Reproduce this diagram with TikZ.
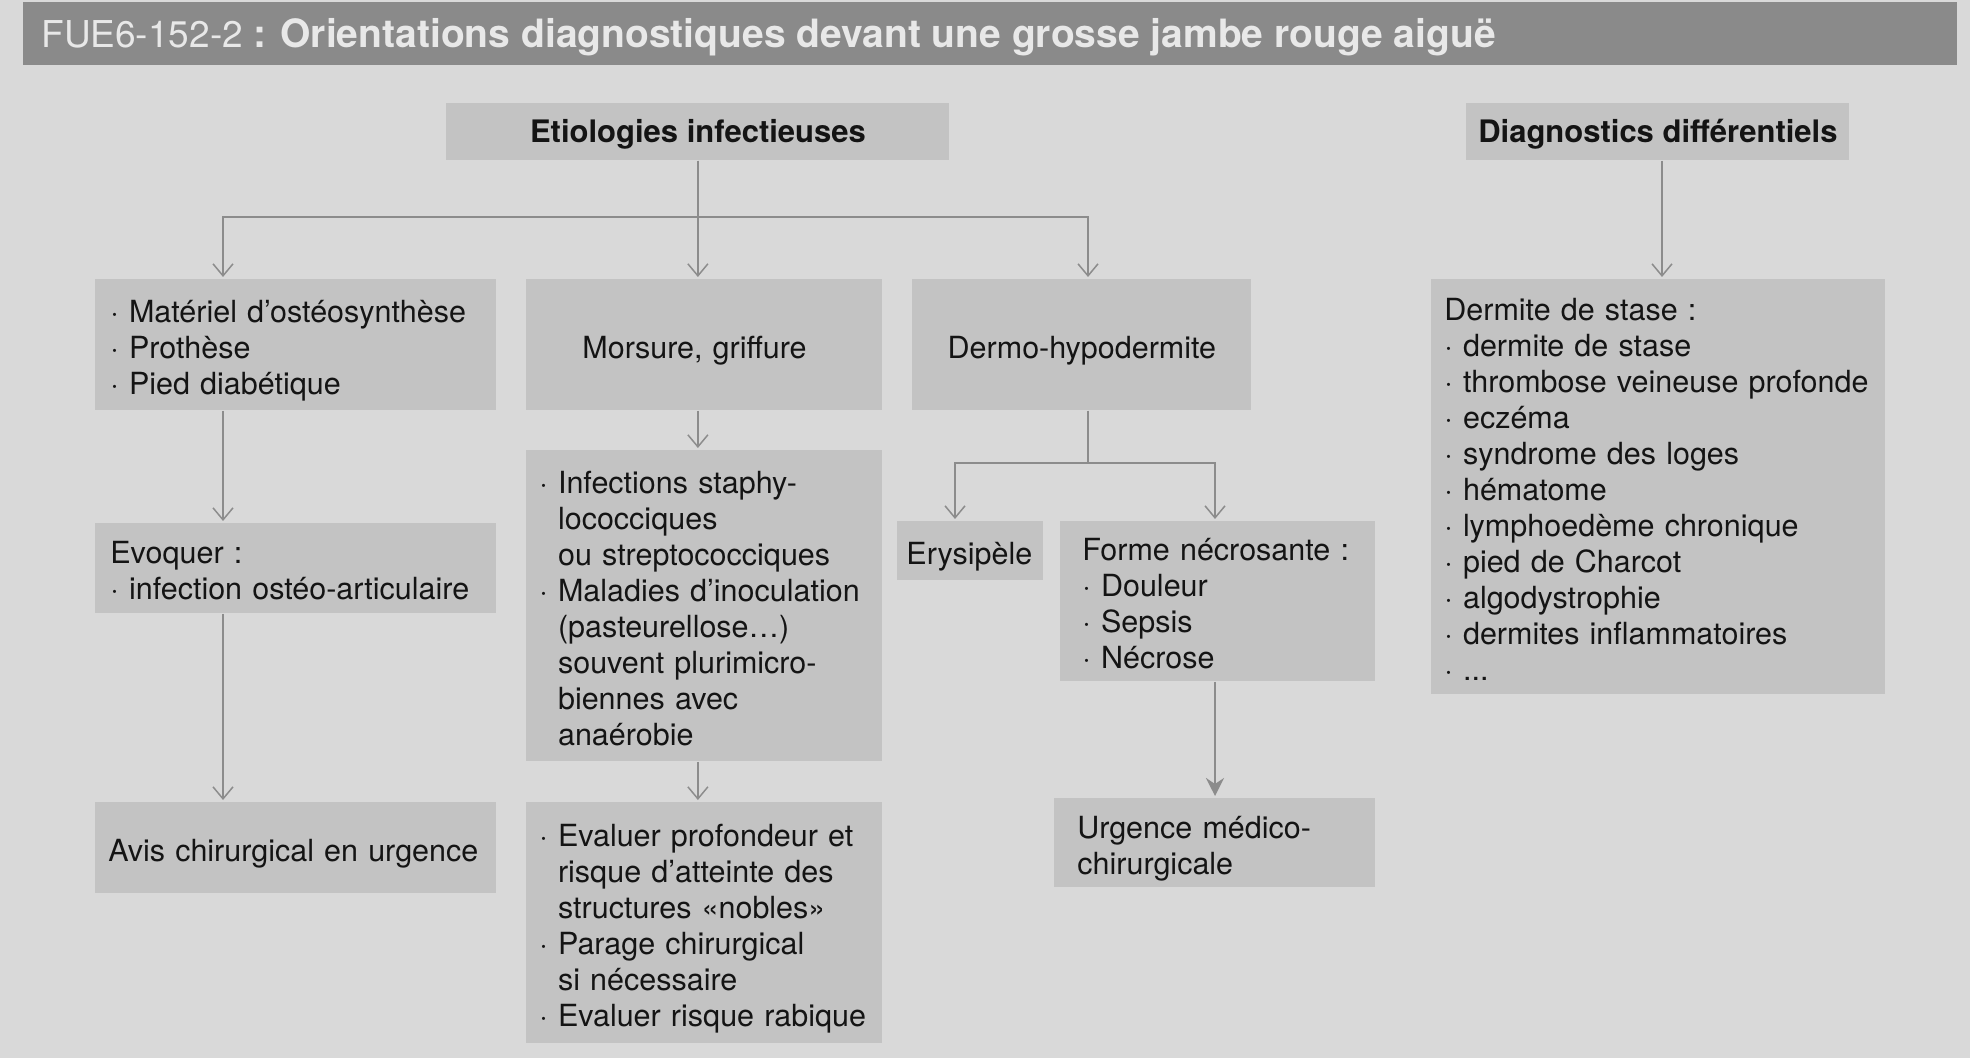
\documentclass[tikz,border=0pt]{standalone}
\usepackage{fontspec}
\setmainfont{TeX Gyre Heros}
\usetikzlibrary{arrows.meta}
\usetikzlibrary{positioning}
\usetikzlibrary{calc}
\definecolor{bggray}{HTML}{D9D9D9}
\definecolor{boxgray}{HTML}{C3C3C3}
\definecolor{bargray}{HTML}{8A8A8A}
\definecolor{linegray}{HTML}{8C8C8C}
\definecolor{inkgray}{HTML}{141414}
\definecolor{titlewhite}{HTML}{E8E8E8}
\newcommand{\nohyph}{\hyphenpenalty10000\relax}
\tikzstyle{titlebar}=[fill=bargray, anchor=north west, minimum width=967pt, minimum height=31.5pt, inner sep=0pt]
\tikzstyle{titletext}=[text=titlewhite, anchor=base west, inner sep=0pt]
\tikzstyle{boxbase}=[fill=boxgray, text=inkgray, anchor=north west, inner xsep=7.5pt, inner ysep=0pt, align=left,
  font=\fontsize{15.25}{18}\selectfont\nohyph, execute at end node={\rule[-5.4pt]{0pt}{5.4pt}}]
\tikzstyle{box}=[boxbase, execute at begin node={\rule{0pt}{18.6pt}}]
\tikzstyle{headbox}=[boxbase, align=center, inner xsep=5pt, font=\fontsize{15.5}{18}\selectfont\bfseries,
  execute at begin node={\rule{0pt}{15.6pt}}]
\tikzstyle{link}=[draw=linegray, line width=0.75pt, -{Straight Barb[length=6pt,width=10pt]}, shorten >=1pt]
\tikzstyle{boldlink}=[draw=linegray, line width=1.3pt, -{Stealth[length=9pt,width=9pt,inset=3pt]}, shorten >=1pt]
\newcommand{\ind}{\phantom{·~}}

\begin{document}
\begin{tikzpicture}[x=0.5pt, y=-0.5pt]

\fill[bggray] (0,0) rectangle (1970,1058);
\useasboundingbox (0,0) rectangle (1970,1058);

\node[titlebar] (bar) at (23,2) {};
\node[titletext] (title) at (41,48) {\fontsize{18.5}{20}\selectfont FUE6-152-2 \fontsize{19.5}{20}\selectfont\bfseries: Orientations diagnostiques devant une grosse jambe rouge aiguë};

%headers
\node[headbox, minimum width=251.5pt, minimum height=28.5pt] (etio) at (446,103) {Etiologies infectieuses};
\node[headbox, minimum width=191.5pt, minimum height=28.5pt] (diff) at (1466,103) {Diagnostics différentiels};

\node[box, text width=185.5pt, minimum height=65.5pt] (mat) at (95,279) {·~Matériel d’ostéosynthèse\\·~Prothèse\\·~Pied diabétique};
\node[box, inner xsep=28pt, text width=122pt, minimum height=65.5pt] (mor) at (526,279) {Morsure, griffure};
\node[box, align=center, minimum width=169.5pt, minimum height=65.5pt] (derm) at (912,279) {Dermo-hypodermite};
\node[box, inner xsep=6.5pt, text width=214pt, minimum height=207.5pt] (stase) at (1431,279) {Dermite de stase :\\·~dermite de stase\\·~thrombose veineuse profonde\\·~eczéma\\·~syndrome des loges\\·~hématome\\·~lymphoedème chronique\\·~pied de Charcot\\·~algodystrophie\\·~dermites inflammatoires\\·~...};

\node[box, text width=185.5pt, minimum height=45pt] (evo) at (95,523) {Evoquer :\\·~infection ostéo-articulaire};
\node[box, inner xsep=6.5pt, text width=165pt, minimum height=155.5pt] (inf) at (526,450) {·~Infections staphy-\\\ind lococciques\\\ind ou streptococciques\\·~Maladies d’inoculation\\\ind (pasteurellose…)\\\ind souvent plurimicro-\\\ind biennes avec\\\ind anaérobie};
\node[box, inner xsep=4.5pt, text width=64pt, minimum height=29.5pt] (ery) at (897,521) {Erysipèle};
\node[box, inner xsep=11pt, text width=135.5pt, minimum height=80pt] (nec) at (1060,521) {Forme nécrosante :\\·~Douleur\\·~Sepsis\\·~Nécrose};

\node[box, inner xsep=6.5pt, text width=187.5pt, minimum height=45.5pt] (avis) at (95,802) {Avis chirurgical en urgence};
\node[box, inner xsep=6.5pt, text width=165pt, minimum height=120.5pt] (eval) at (526,802) {·~Evaluer profondeur et\\\ind risque d’atteinte des\\\ind structures «nobles»\\·~Parage chirurgical\\\ind si nécessaire\\·~Evaluer risque rabique};
\node[box, inner xsep=11.5pt, text width=137.5pt, minimum height=44.5pt] (urg) at (1054,798) {Urgence médico-\\chirurgicale};

%columns of the arrows
\coordinate (colA) at (223,0);
\coordinate (colC) at (1088,0);
\coordinate (colD) at (955,0);
\coordinate (colE) at (1215,0);
\coordinate (colF) at (1662,0);

\draw[link] (etio.south) -- ++(0,56) -| (mat.north -| colA);
\draw[link] (etio.south) -- (mor.north -| etio.south);
\draw[link] (etio.south) -- ++(0,56) -| (derm.north -| colC);
\draw[link] (mat.south -| colA) -- (evo.north -| colA);
\draw[link] (evo.south -| colA) -- (avis.north -| colA);
\draw[link] (mor.south -| etio.south) -- (inf.north -| etio.south);
\draw[link] (inf.south -| etio.south) -- (eval.north -| etio.south);
\draw[link] (derm.south -| colC) -- ++(0,52) -| (ery.north -| colD);
\draw[link] (derm.south -| colC) -- ++(0,52) -| (nec.north -| colE);
\draw[boldlink] (nec.south -| colE) -- (urg.north -| colE);
\draw[link] (diff.south -| colF) -- (stase.north -| colF);

\end{tikzpicture}
\end{document}
